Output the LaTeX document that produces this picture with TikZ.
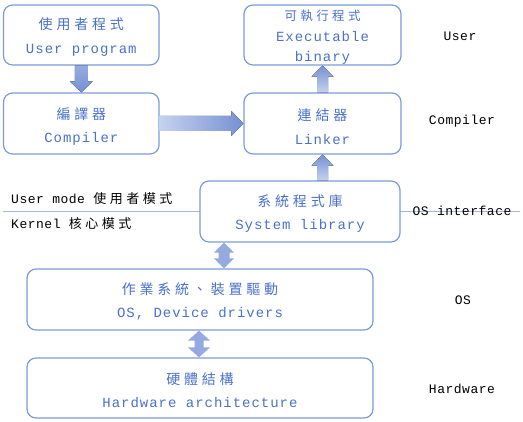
\documentclass[tikz,border=0pt]{standalone}
\usepackage{fontspec}
\setmainfont{Liberation Mono}[LetterSpace=7]
\newfontfamily\cjk{Noto Sans CJK TC}[LetterSpace=27]
\newfontfamily\lab{Liberation Mono}[LetterSpace=4]
\usetikzlibrary{calc}
\definecolor{boxline}{RGB}{125,155,218}
\definecolor{txtblue}{RGB}{74,114,202}
\definecolor{arrlight}{RGB}{196,210,240}
\definecolor{arrdark}{RGB}{118,145,210}
\definecolor{arrmid}{RGB}{148,170,225}
\definecolor{sepline}{RGB}{165,184,226}
\tikzset{
  box/.style={draw=boxline, line width=1.2pt, rounded corners=9pt, fill=white,
    inner sep=0pt},
  btext/.style={inner sep=0pt, align=center, text=txtblue,
    font=\fontsize{14}{23.5}\selectfont},
  sidelab/.style={inner sep=0pt, text=black, font=\lab\fontsize{13}{15}\selectfont},
}
\begin{document}
\begin{tikzpicture}[x=1pt,y=-1pt]
\useasboundingbox (0,0) rectangle (523,422);
% separator line
\coordinate (l0) at (3,211);
\coordinate (l1) at (520,211);
\draw[sepline, line width=0.9pt] (l0) -- (l1);
% boxes
\node[box, minimum width=155.5, minimum height=60] (up) at (81.3,35) {};
\node[box, minimum width=155.5, minimum height=61] (cp) at (81.3,123.5) {};
\node[box, minimum width=157, minimum height=60] (ex) at (322.5,35) {};
\node[box, minimum width=157, minimum height=61] (lk) at (322.5,123.5) {};
\node[box, minimum width=200, minimum height=61] (sl) at (300,211.5) {};
\node[box, minimum width=346, minimum height=61] (os) at (200,299.5) {};
\node[box, minimum width=346, minimum height=60] (hw) at (200,388) {};
% box texts
\node[btext] (upt) at ($(up.center)+(0,2)$) {{\cjk 使用者程式}\\User program};
\node[btext] (cpt) at ($(cp.center)+(0,3)$) {{\cjk 編譯器}\\Compiler};
\node[btext, font=\fontsize{14}{20.5}\selectfont] (ext) at ($(ex.center)+(0,2.5)$) {{\cjk\fontsize{12.5}{20.5}\selectfont 可執行程式}\\Executable\\binary};
\node[btext] (lkt) at ($(lk.center)+(0,3)$) {{\cjk 連結器}\\Linker};
\node[btext] (slt) at ($(sl.center)+(0,2)$) {{\cjk 系統程式庫}\\System library};
\node[btext] (ost) at ($(os.center)+(0,2)$) {{\cjk 作業系統、裝置驅動}\\OS, Device drivers};
\node[btext] (hwt) at ($(hw.center)+(0,2)$) {{\cjk 硬體結構}\\Hardware architecture};
% arrow 1: user program -> compiler
\fill[top color=arrmid, bottom color=arrdark]
  ($(up.south)+(-6.5,0)$) -- ($(cp.north)+(-6.5,-11)$) -- ($(cp.north)+(-11.5,-11)$)
  -- (cp.north) -- ($(cp.north)+(11.5,-11)$) -- ($(cp.north)+(6.5,-11)$)
  -- ($(up.south)+(6.5,0)$) -- cycle;
% arrow 2: compiler -> linker
\fill[left color=arrlight, right color=arrdark]
  ($(cp.east)+(0,-7.5)$) -- ($(lk.west)+(-12,-7.5)$) -- ($(lk.west)+(-12,-12.5)$)
  -- (lk.west) -- ($(lk.west)+(-12,12.5)$) -- ($(lk.west)+(-12,7.5)$)
  -- ($(cp.east)+(0,7.5)$) -- cycle;
% arrow 3: linker -> executable
\fill[bottom color=arrlight, top color=arrdark]
  ($(lk.north)+(-5.5,0)$) -- ($(ex.south)+(-5.5,11)$) -- ($(ex.south)+(-11,11)$)
  -- (ex.south) -- ($(ex.south)+(11,11)$) -- ($(ex.south)+(5.5,11)$)
  -- ($(lk.north)+(5.5,0)$) -- cycle;
% arrow 4: system library -> linker
\coordinate (a4) at (lk.south |- sl.north);
\fill[bottom color=arrlight, top color=arrdark]
  ($(a4)+(-5.5,0)$) -- ($(lk.south)+(-5.5,11)$) -- ($(lk.south)+(-11,11)$)
  -- (lk.south) -- ($(lk.south)+(11,11)$) -- ($(lk.south)+(5.5,11)$)
  -- ($(a4)+(5.5,0)$) -- cycle;
% arrow 5: system library <-> OS
\coordinate (d1) at (224,0);
\coordinate (d1a) at (d1 |- sl.south);
\coordinate (d1b) at (d1 |- os.north);
\fill[arrmid]
  (d1a) -- ($(d1a)+(10,10)$) -- ($(d1a)+(5.5,10)$) -- ($(d1b)+(5.5,-10)$) -- ($(d1b)+(10,-10)$)
  -- (d1b) -- ($(d1b)+(-10,-10)$) -- ($(d1b)+(-5.5,-10)$) -- ($(d1a)+(-5.5,10)$)
  -- ($(d1a)+(-10,10)$) -- cycle;
% arrow 6: OS <-> hardware
\coordinate (d2a) at ($(os.south)+(-1,0)$);
\coordinate (d2b) at ($(hw.north)+(-1,0)$);
\fill[arrmid]
  (d2a) -- ($(d2a)+(11,10)$) -- ($(d2a)+(4.5,10)$) -- ($(d2b)+(4.5,-10)$) -- ($(d2b)+(11,-10)$)
  -- (d2b) -- ($(d2b)+(-11,-10)$) -- ($(d2b)+(-4.5,-10)$) -- ($(d2a)+(-4.5,10)$)
  -- ($(d2a)+(-11,10)$) -- cycle;
% side labels
\node[sidelab, anchor=west] (um) at (11,199) {User mode {\cjk\fontsize{13}{15}\selectfont 使用者模式}};
\node[sidelab, anchor=west] (km) at (11,224) {Kernel {\cjk\fontsize{13}{15}\selectfont 核心模式}};
\node[sidelab] (ru) at (460,36) {User};
\node[sidelab] (rc) at (462,121) {Compiler};
\node[sidelab] (ri) at (462,211) {OS interface};
\node[sidelab] (ro) at (463,300) {OS};
\node[sidelab] (rh) at (462,389) {Hardware};
\end{tikzpicture}
\end{document}
